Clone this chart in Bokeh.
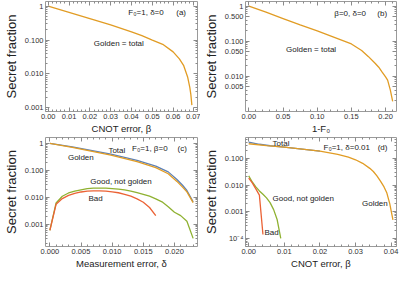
from bokeh.plotting import figure
from bokeh.layouts import column, row
from bokeh.models import (FixedTicker, NumeralTickFormatter, Range1d, LogAxis,
                          LinearAxis, Label, CustomJSTickFormatter)
from bokeh.embed import file_html
from bokeh.resources import INLINE

BLUE = "#5E81B5"
ORANGE = "#E19C24"
GREEN = "#8FB131"
RED = "#EB6235"
FONT = "Liberation Sans"

# ---------------- data ----------------
# (a) F0=1, delta=0 : secret fraction vs CNOT error beta
a_beta = [0.0, 0.01, 0.02, 0.03, 0.04, 0.045, 0.05, 0.055, 0.06, 0.063, 0.065, 0.067, 0.068, 0.0685, 0.069]
a_golden = [1.0, 0.66, 0.43, 0.28, 0.175, 0.135, 0.10, 0.075, 0.045, 0.028, 0.018, 0.008, 0.004, 0.0025, 0.0012]

# (b) beta=0, delta=0 : secret fraction vs 1-F0
b_infid = [0.0, 0.025, 0.05, 0.075, 0.10, 0.125, 0.15, 0.165, 0.175, 0.185, 0.19, 0.195, 0.2, 0.203, 0.207, 0.2104]
b_golden = [1.0, 0.67, 0.44, 0.29, 0.195, 0.128, 0.083, 0.054, 0.036, 0.023, 0.018, 0.013, 0.0095, 0.0077, 0.0040, 0.0019]

# (c) F0=1, beta=0 : secret fraction vs measurement error delta
c_delta_main = [0.0, 0.0036, 0.0098, 0.014, 0.017, 0.019, 0.0204, 0.0213, 0.022, 0.023]
c_total = [1.0, 0.74, 0.40, 0.235, 0.145, 0.088, 0.046, 0.028, 0.018, 0.0068]
c_golden = [1.0, 0.71, 0.37, 0.21, 0.126, 0.075, 0.039, 0.024, 0.016, 0.0064]
c_delta_good = [0.0, 0.001, 0.002, 0.003, 0.004, 0.005, 0.006, 0.007, 0.008, 0.009, 0.010, 0.011,
                0.012, 0.013, 0.014, 0.015, 0.016, 0.017, 0.018, 0.019, 0.020, 0.021, 0.022, 0.023]
c_good = [0.0006, 0.0062, 0.011, 0.0145, 0.017, 0.019, 0.021, 0.022, 0.022, 0.0218, 0.021, 0.020,
          0.0188, 0.017, 0.015, 0.013, 0.011, 0.0088, 0.0068, 0.0045, 0.0028, 0.0021, 0.0013, 0.0003]
c_delta_bad = [0.0, 0.001, 0.002, 0.003, 0.004, 0.005, 0.006, 0.007, 0.008, 0.009, 0.010, 0.011,
               0.012, 0.013, 0.014, 0.015, 0.016, 0.017]
c_bad = [0.0006, 0.0055, 0.009, 0.0118, 0.014, 0.0158, 0.017, 0.0175, 0.0175, 0.017, 0.016, 0.0148,
         0.013, 0.011, 0.0088, 0.0066, 0.0042, 0.0021]

# (d) F0=1, delta=0.01 : secret fraction vs CNOT error beta
d_beta_total = [0.0, 0.003, 0.006, 0.01, 0.015, 0.02]
d_total = [0.40, 0.335, 0.295, 0.262, 0.222, 0.186]
d_beta_golden = [0.0, 0.005, 0.01, 0.015, 0.02, 0.025, 0.028, 0.030, 0.032, 0.034, 0.035, 0.036,
                 0.037, 0.038, 0.0388, 0.0396, 0.0405]
d_golden = [0.35, 0.30, 0.26, 0.22, 0.185, 0.14, 0.11, 0.088, 0.065, 0.042, 0.032, 0.022,
            0.014, 0.0085, 0.005, 0.002, 0.0005]
d_beta_good = [0.0, 0.001, 0.002, 0.003, 0.004, 0.005, 0.006, 0.007, 0.008, 0.009]
d_good = [0.022, 0.013, 0.0085, 0.006, 0.0045, 0.0033, 0.0022, 0.0012, 0.0005, 0.0001]
d_beta_bad = [0.0, 0.001, 0.002, 0.003, 0.004]
d_bad = [0.018, 0.012, 0.0072, 0.0042, 0.00014]

# tick values
a_xticks = [0.0, 0.01, 0.02, 0.03, 0.04, 0.05, 0.06, 0.07]
b_xticks = [0.0, 0.05, 0.10, 0.15, 0.20]
c_xticks = [0.0, 0.005, 0.010, 0.015, 0.020]
d_xticks = [0.0, 0.01, 0.02, 0.03, 0.04]

dec_ticks = {1.0: "1", 0.1: "0.100", 0.01: "0.010", 0.001: "0.001"}
b_ticks = {1.0: "1", 0.5: "0.500", 0.1: "0.100", 0.05: "0.050", 0.01: "0.010", 0.005: "0.005"}
d_ticks = {0.1: "0.100", 0.01: "0.010", 0.001: "0.001", 0.0001: "10\u207b\u2074"}


def minor_x(majors, n=5):
    out = []
    for i in range(len(majors) - 1):
        step = (majors[i + 1] - majors[i]) / n
        out += [majors[i] + k * step for k in range(1, n)]
    step = (majors[1] - majors[0]) / n
    out += [majors[-1] + k * step for k in range(1, n)]
    out += [majors[0] - k * step for k in range(1, n)]
    return out


def minor_log(lo_exp, hi_exp, skip5=False):
    out = []
    for e in range(lo_exp, hi_exp + 1):
        for m in range(2, 10):
            if skip5 and m == 5:
                continue
            out.append(m * 10.0 ** e)
    return out


def make_fig(xr, yr, xlabel, xticks, xfmt, yticks, ymin, width, height, left=20):
    p = figure(width=width, height=height, x_range=Range1d(*xr), y_range=Range1d(*yr),
               y_axis_type="log", output_backend="svg", toolbar_location=None,
               min_border_left=left, min_border_right=3, min_border_top=1, min_border_bottom=2)
    p.grid.visible = False
    p.outline_line_color = "#9a9a9a"
    p.outline_line_width = 1
    p.background_fill_color = "white"
    p.border_fill_color = "white"

    xt = FixedTicker(ticks=xticks, minor_ticks=minor_x(xticks))
    yt = FixedTicker(ticks=list(yticks.keys()), minor_ticks=ymin)
    p.xaxis.ticker = xt
    p.yaxis.ticker = yt
    p.xaxis.formatter = NumeralTickFormatter(format=xfmt)
    p.yaxis.major_label_overrides = yticks
    p.xaxis.axis_label = xlabel
    p.yaxis.axis_label = "Secret fraction"

    for ax in (p.xaxis[0], p.yaxis[0]):
        ax.axis_line_color = None
        ax.major_tick_in = 4
        ax.major_tick_out = 0
        ax.minor_tick_in = 2
        ax.minor_tick_out = 0
        ax.major_tick_line_color = "#8a8a8a"
        ax.minor_tick_line_color = "#8a8a8a"
        ax.major_label_text_font = FONT
        ax.major_label_text_font_size = "7.5px"
        ax.major_label_text_color = "#333333"
        ax.axis_label_text_font = FONT
        ax.axis_label_text_font_style = "normal"
        ax.axis_label_text_color = "#222222"
        ax.major_label_standoff = 2
    p.xaxis.axis_label_text_font_size = "9.5px"
    p.xaxis.axis_label_standoff = 1
    p.yaxis.axis_label_text_font_size = "13px"
    p.yaxis.axis_label_standoff = 3

    # mirrored ticks on top and right (frame ticks)
    top = LinearAxis(ticker=FixedTicker(ticks=xticks, minor_ticks=minor_x(xticks)),
                     formatter=CustomJSTickFormatter(code="return ''"))
    right = LogAxis(ticker=FixedTicker(ticks=list(yticks.keys()), minor_ticks=ymin),
                    formatter=CustomJSTickFormatter(code="return ''"))
    for ax in (top, right):
        ax.axis_line_color = None
        ax.major_tick_in = 4
        ax.major_tick_out = 0
        ax.minor_tick_in = 2
        ax.minor_tick_out = 0
        ax.major_tick_line_color = "#8a8a8a"
        ax.minor_tick_line_color = "#8a8a8a"
        ax.major_label_standoff = 0
        ax.major_label_text_font_size = "1px"
    p.add_layout(top, "above")
    p.add_layout(right, "right")
    return p


def lbl(p, x, y, text, size="8px"):
    p.add_layout(Label(x=x, y=y, text=text, text_font=FONT, text_font_size=size,
                       text_color="#222222", text_baseline="middle", text_align="left"))


LW = 1.3
W1, W2 = 200, 199
H1, H2 = 136, 135

# (a)
pa = make_fig((-0.0013, 0.0717), (0.00078, 1.38), "CNOT error, \u03b2", a_xticks, "0.00",
              dec_ticks, minor_log(-4, 0), W1, H1)
pa.line(a_beta, a_golden, line_color=ORANGE, line_width=LW)
lbl(pa, 0.0385, 0.67, "F\u2080=1, \u03b4=0")
lbl(pa, 0.0615, 0.67, "(a)")
lbl(pa, 0.0219, 0.077, "Golden = total")

# (b)
pb = make_fig((-0.005, 0.216), (0.00098, 1.35), "1-F\u2080", b_xticks, "0.00",
              b_ticks, minor_log(-4, 0, skip5=True), W2, H1)
pb.line(b_infid, b_golden, line_color=ORANGE, line_width=LW)
lbl(pb, 0.125, 0.61, "\u03b2=0, \u03b4=0")
lbl(pb, 0.188, 0.61, "(b)")
lbl(pb, 0.0544, 0.059, "Golden = total")

# (c)
pc = make_fig((-0.0007, 0.0237), (0.00015, 1.66), "Measurement error, \u03b4", c_xticks, "0.000",
              dec_ticks, minor_log(-5, 0), W1, H2)
pc.line(c_delta_main, c_total, line_color=BLUE, line_width=LW)
pc.line(c_delta_main, c_golden, line_color=ORANGE, line_width=LW)
pc.line(c_delta_good, c_good, line_color=GREEN, line_width=LW)
pc.line(c_delta_bad, c_bad, line_color=RED, line_width=LW)
lbl(pc, 0.0132, 0.64, "F\u2080=1, \u03b2=0")
lbl(pc, 0.0205, 0.64, "(c)")
lbl(pc, 0.0094, 0.55, "Total")
lbl(pc, 0.0029, 0.31, "Golden")
lbl(pc, 0.0065, 0.04, "Good, not golden")
lbl(pc, 0.0062, 0.0087, "Bad")

# (d)
pd_ = make_fig((-0.0009, 0.0415), (5.0e-5, 0.60), "CNOT error, \u03b2", d_xticks, "0.00",
               d_ticks, minor_log(-5, -1), W2, H2)
pd_.line(d_beta_total, d_total, line_color=BLUE, line_width=LW)
pd_.line(d_beta_golden, d_golden, line_color=ORANGE, line_width=LW)
pd_.line(d_beta_good, d_good, line_color=GREEN, line_width=LW)
pd_.line(d_beta_bad, d_bad, line_color=RED, line_width=LW)
lbl(pd_, 0.0210, 0.25, "F\u2080=1, \u03b4=0.01")
lbl(pd_, 0.0362, 0.25, "(d)")
lbl(pd_, 0.0067, 0.37, "Total")
lbl(pd_, 0.0067, 0.003, "Good, not golden")
lbl(pd_, 0.0318, 0.002, "Golden")
lbl(pd_, 0.0044, 0.000166, "Bad")

layout = column(row(pa, pb, spacing=0), row(pc, pd_, spacing=0), spacing=0)

open("out.html", "w").write(file_html(layout, INLINE))
